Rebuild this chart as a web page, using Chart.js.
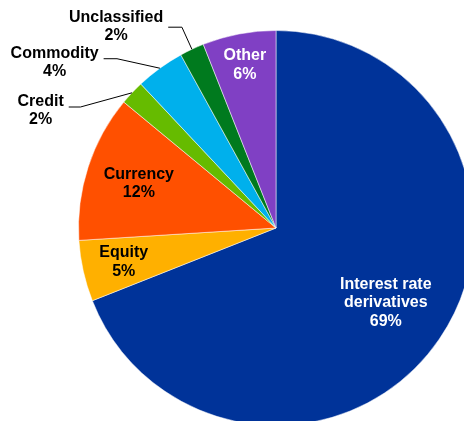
<!DOCTYPE html>
<html>
<head>
<meta charset="utf-8">
<script src="https://cdn.jsdelivr.net/npm/chart.js@4.4.1/dist/chart.umd.min.js"></script>
<style>
  html, body { margin: 0; padding: 0; background: #fff; overflow: hidden; width: 464px; height: 421px; }
  #wrap { position: absolute; left: 0; top: 0; }
</style>
</head>
<body>
<div id="wrap"><canvas id="pieChart" width="552" height="456"></canvas></div>
<script>
  // data
  const categories = ["Interest rate derivatives", "Equity", "Currency", "Credit", "Commodity", "Unclassified", "Other"];
  const shares = [69, 5, 12, 2, 4, 2, 6];
  const labelText = [["Interest rate", "derivatives"], ["Equity"], ["Currency"], ["Credit"], ["Commodity"], ["Unclassified"], ["Other"]];

  const sliceColors = ["#003399", "#FFB000", "#FF5000", "#66BB00", "#00B0EC", "#007A1E", "#8040C4"];

  // where each label goes: inside at a fraction of the radius, or outside on a leader line
  const labelPlace = [
    { inside: true, r: 0.672, color: "#fff" },
    { inside: true, r: 0.79, color: "#000" },
    { inside: true, r: 0.73, color: "#000" },
    { inside: false, dx: -51.6, dy: 14.2, len: 11.7, ty: -5.7 },
    { inside: false, dx: -42.9, dy: -9.5, len: 13.4, ty: -5 },
    { inside: false, dx: -10, dy: -22.1, len: 13.7, ty: -10 },
    { inside: true, r: 0.84, color: "#fff" }
  ];

  const sliceLabels = {
    id: "sliceLabels",
    afterDatasetsDraw(chart) {
      const ctx = chart.ctx;
      const arcs = chart.getDatasetMeta(0).data;
      ctx.save();
      ctx.font = "bold 16px 'Liberation Sans', Arial, sans-serif";
      ctx.textAlign = "center";
      ctx.textBaseline = "middle";
      arcs.forEach((arc, i) => {
        const lines = labelText[i].concat(shares[i] + "%");
        const mid = (arc.startAngle + arc.endAngle) / 2;
        const place = labelPlace[i];
        if (place.inside) {
          const lineH = 18.5;
          const d = arc.outerRadius * place.r;
          const cx = arc.x + Math.cos(mid) * d;
          const cy = arc.y + Math.sin(mid) * d;
          const top = cy - (lines.length - 1) * lineH / 2;
          ctx.fillStyle = place.color;
          lines.forEach((t, k) => ctx.fillText(t, cx, top + k * lineH));
        } else {
          const lineH = 18;
          const ex = arc.x + Math.cos(mid) * arc.outerRadius;
          const ey = arc.y + Math.sin(mid) * arc.outerRadius;
          const bx = ex + place.dx, by = ey + place.dy;
          const lx = bx - place.len;
          ctx.strokeStyle = "#000";
          ctx.lineWidth = 1;
          ctx.beginPath();
          ctx.moveTo(ex, ey);
          ctx.lineTo(bx, by);
          ctx.lineTo(lx, by);
          ctx.stroke();
          const w = Math.max(...lines.map(t => ctx.measureText(t).width));
          const cx = lx - 5 - w / 2;
          const top = by + place.ty;
          ctx.fillStyle = "#000";
          lines.forEach((t, k) => ctx.fillText(t, cx, top + k * lineH));
        }
      });
      ctx.restore();
    }
  };

  const ctxPie = document.getElementById("pieChart").getContext("2d");
  const pieChart = new Chart(ctxPie, {
    type: "pie",
    data: {
      labels: categories,
      datasets: [
        {
          data: shares,
          backgroundColor: sliceColors,
          borderColor: "rgba(255,255,255,0.5)",
          borderWidth: 1
        }
      ]
    },
    options: {
      responsive: false,
      animation: false,
      devicePixelRatio: 1,
      layout: { padding: 30 },
      plugins: {
        legend: { display: false },
        tooltip: { enabled: false }
      }
    },
    plugins: [sliceLabels]
  });
</script>
</body>
</html>
